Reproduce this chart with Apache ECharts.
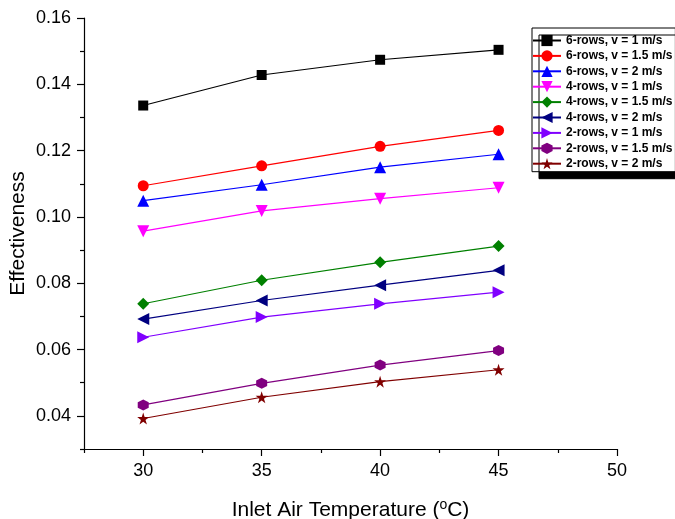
<!DOCTYPE html>
<html>
<head>
<meta charset="utf-8">
<script src="https://cdn.jsdelivr.net/npm/echarts@6/dist/echarts.min.js"></script>
<style>html,body{margin:0;padding:0;background:#fff}#c{width:675px;height:519px}</style>
</head>
<body>
<div id="c"></div>
<script>
const temps = [30, 35, 40, 45];
const seriesNames = [
  '6-rows, v = 1 m/s', '6-rows, v = 1.5 m/s', '6-rows, v = 2 m/s',
  '4-rows, v = 1 m/s', '4-rows, v = 1.5 m/s', '4-rows, v = 2 m/s',
  '2-rows, v = 1 m/s', '2-rows, v = 1.5 m/s', '2-rows, v = 2 m/s'
];
const rows6_v1   = [0.1336, 0.1428, 0.1474, 0.1504];
const rows6_v15  = [0.1094, 0.1154, 0.1213, 0.1261];
const rows6_v2   = [0.1049, 0.1097, 0.1150, 0.1189];
const rows4_v1   = [0.0957, 0.1018, 0.1055, 0.1088];
const rows4_v15  = [0.0738, 0.0809, 0.0863, 0.0912];
const rows4_v2   = [0.0692, 0.0748, 0.0794, 0.0839];
const rows2_v1   = [0.0637, 0.0698, 0.0738, 0.0773];
const rows2_v15  = [0.0433, 0.0498, 0.0553, 0.0597];
const rows2_v2   = [0.0392, 0.0456, 0.0503, 0.0539];
const allValues = [rows6_v1, rows6_v15, rows6_v2, rows4_v1, rows4_v15, rows4_v2, rows2_v1, rows2_v15, rows2_v2];

const xTickLabels = [30, 35, 40, 45, 50];
const xMinorTicks = [27.5, 32.5, 37.5, 42.5, 47.5];
const yTickLabels = [0.04, 0.06, 0.08, 0.10, 0.12, 0.14, 0.16];
const yMinorTicks = [0.03, 0.05, 0.07, 0.09, 0.11, 0.13, 0.15];

const colors = ['#000000', '#ff0000', '#0000ff', '#ff00ff', '#008000', '#000080', '#8000ff', '#800080', '#800000'];
const hexPath = 'path://M0,-1L0.866,-0.5L0.866,0.5L0,1L-0.866,0.5L-0.866,-0.5Z';
const starPath = 'path://M0,-1L0.2245,-0.309L0.9511,-0.309L0.3633,0.118L0.5878,0.809L0,0.382L-0.5878,0.809L-0.3633,0.118L-0.9511,-0.309L-0.2245,-0.309Z';
const symbols = ['rect', 'circle', 'triangle', 'triangle', 'diamond', 'triangle', 'triangle', hexPath, starPath];
const rotates = [0, 0, 0, 180, 0, 90, -90, 0, 0];
const sizes = [10, 11, 12, 12, 12, 12, 12, 11, 12];

const font = 'Arial, "Liberation Sans", sans-serif';

const series = seriesNames.map((name, i) => ({
  name: name,
  type: 'line',
  xAxisIndex: 0,
  yAxisIndex: 0,
  data: temps.map((t, j) => [t, allValues[i][j]]),
  symbol: symbols[i],
  symbolRotate: rotates[i],
  symbolSize: sizes[i],
  showAllSymbol: true,
  color: colors[i],
  lineStyle: { color: colors[i], width: 1.2 },
  itemStyle: { color: colors[i] },
  emphasis: { disabled: true },
  animation: false
}));

const chart = echarts.init(document.getElementById('c'));
chart.setOption({
  backgroundColor: '#ffffff',
  animation: false,
  grid: { left: 84, right: 58, top: 18, bottom: 70, containLabel: false, outerBoundsMode: 'none' },
  legend: {
    data: seriesNames,
    orient: 'vertical',
    left: 532,
    top: 28,
    itemWidth: 28,
    itemHeight: 14,
    itemGap: 3.4,
    padding: [6.5, 3, 2, 0],
    backgroundColor: '#ffffff',
    borderColor: '#000000',
    borderWidth: 1,
    shadowColor: '#000000',
    shadowBlur: 0,
    shadowOffsetX: 7,
    shadowOffsetY: 7,
    textStyle: { fontFamily: font, fontSize: 12, fontWeight: 'bold', color: '#000000', lineHeight: 12 }
  },
  xAxis: [{
    type: 'value', position: 'bottom', min: 27.5, max: 50,
    name: 'Inlet Air Temperature ({sup|o}C)',
    nameLocation: 'middle', nameGap: 49, nameMoveOverlap: false,
    nameTextStyle: { fontFamily: font, fontSize: 21, color: '#000', rich: { sup: { fontFamily: font, fontSize: 14, verticalAlign: 'top', padding: [0, 0, 10, 0], color: '#000' } } },
    axisLine: { show: true, onZero: false, lineStyle: { color: '#000', width: 1.2 } },
    axisTick: { show: true, inside: false, length: 7, customValues: xTickLabels, lineStyle: { color: '#000', width: 1.2 } },
    axisLabel: { show: true, customValues: xTickLabels, margin: 13, fontFamily: font, fontSize: 18, color: '#000' },
    splitLine: { show: false }
  }, {
    type: 'value', position: 'bottom', min: 27.5, max: 50,
    axisLine: { show: false, onZero: false },
    axisTick: { show: true, inside: false, length: 4, customValues: xMinorTicks, lineStyle: { color: '#000', width: 1.2 } },
    axisLabel: { show: false },
    splitLine: { show: false }
  }],
  yAxis: [{
    type: 'value', position: 'left', min: 0.03, max: 0.16,
    name: 'Effectiveness',
    nameLocation: 'middle', nameGap: 55, nameMoveOverlap: false,
    nameTextStyle: { fontFamily: font, fontSize: 21, color: '#000' },
    axisLine: { show: true, onZero: false, lineStyle: { color: '#000', width: 1.2 } },
    axisTick: { show: true, inside: false, length: 7, customValues: yTickLabels, lineStyle: { color: '#000', width: 1.2 } },
    axisLabel: { show: true, customValues: yTickLabels, margin: 13, fontFamily: font, fontSize: 18, color: '#000', formatter: v => v.toFixed(2) },
    splitLine: { show: false }
  }, {
    type: 'value', position: 'left', min: 0.03, max: 0.16,
    axisLine: { show: false, onZero: false },
    axisTick: { show: true, inside: false, length: 4, customValues: yMinorTicks, lineStyle: { color: '#000', width: 1.2 } },
    axisLabel: { show: false },
    splitLine: { show: false }
  }],
  series: series
});
</script>
</body>
</html>
